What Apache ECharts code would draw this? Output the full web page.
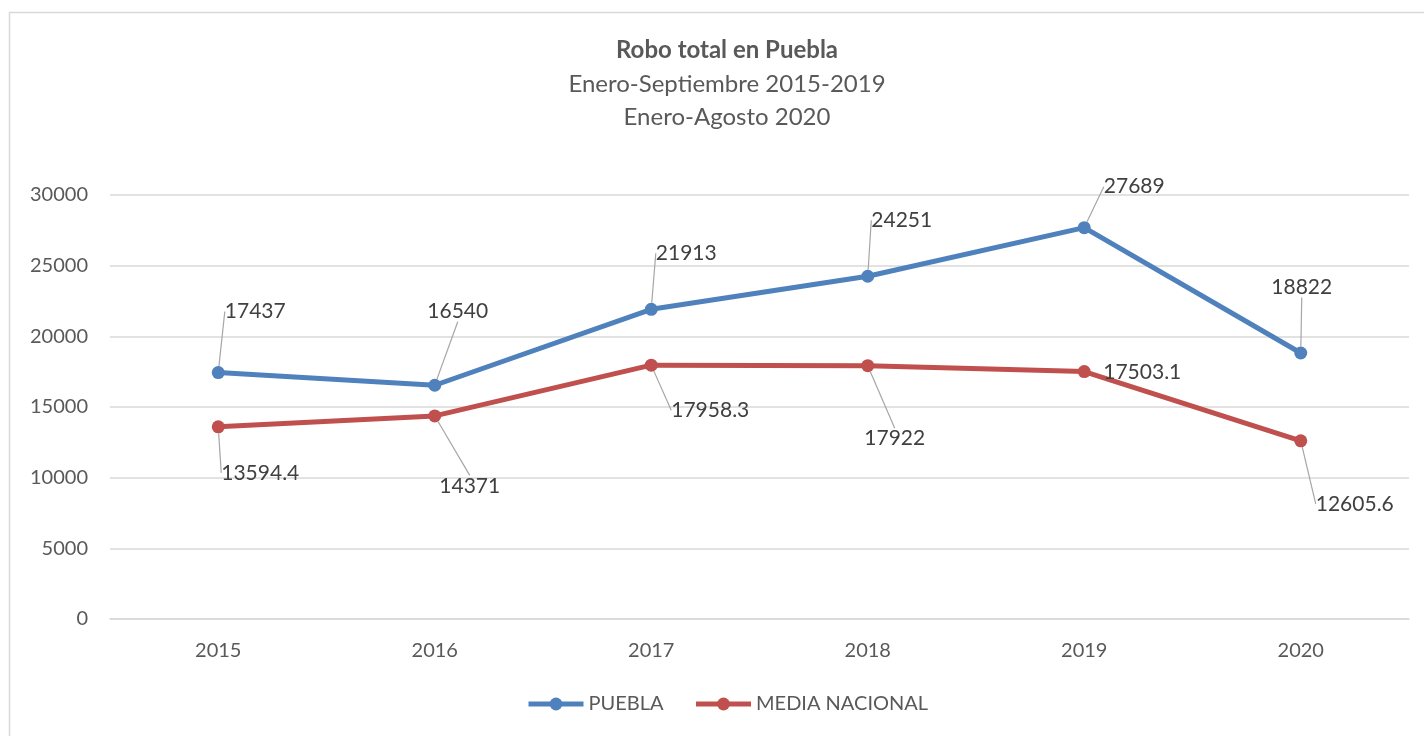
<!DOCTYPE html>
<html>
<head>
<meta charset="utf-8">
<title>Robo total en Puebla</title>
<script src="https://cdn.jsdelivr.net/npm/echarts@6/dist/echarts.min.js"></script>
<style>
  html, body { margin: 0; padding: 0; background: #fff; }
  #chart { width: 1424px; height: 736px; }
</style>
</head>
<body>
<div id="chart"></div>
<script>
// ── data ──
const years = ["2015", "2016", "2017", "2018", "2019", "2020"];
const puebla = [17437, 16540, 21913, 24251, 27689, 18822];
const mediaNacional = [13594.4, 14371, 17958.3, 17922, 17503.1, 12605.6];

// label offsets from the point (px), per series; noLeader = no guide line
const labelShift = [
  [[37, -61], [23, -74], [35, -56], [34, -56], [50, -41], [1, -66]],
  [[42, 46], [35, 70], [59, 45], [27, 73], [58, 1], [54, 63]],
];
const noLeader = [[], [4]];

const FONT = "Lato";
const BLUE = "#4F81BD", RED = "#C0504D";

const chart = echarts.init(document.getElementById("chart"), null, { renderer: "canvas" });

function lineSeries(idx, name, values, color) {
  return {
    name, type: "line",
    data: values.map((v, i) => noLeader[idx].includes(i)
      ? { value: v, labelLine: { show: false } } : v),
    symbol: "circle", symbolSize: 13,
    lineStyle: { color, width: 5 },
    itemStyle: { color },
    label: {
      show: true, position: "inside",
      color: "#404040", fontFamily: FONT, fontSize: 21,
    },
    labelLine: { show: true, lineStyle: { color: "#a6a6a6", width: 1.2 } },
    labelLayout: (p) => {
      const s = labelShift[p.seriesIndex][p.dataIndex];
      return { dx: s[0], dy: s[1] };
    },
    emphasis: { disabled: true },
  };
}

chart.setOption({
  animation: false,
  backgroundColor: "#fff",
  textStyle: { fontFamily: FONT },
  graphic: [{
    type: "rect", silent: true,
    shape: { x: 9.5, y: 12.5, width: 1440, height: 760 },
    style: { fill: "none", stroke: "#d9d9d9", lineWidth: 1.5 },
  }],
  title: {
    text: "Robo total en Puebla",
    subtext: "Enero-Septiembre 2015-2019\nEnero-Agosto 2020",
    left: 722, top: 33, textAlign: "center", itemGap: 6,
    textStyle: { fontFamily: FONT, fontSize: 24, fontWeight: "bold", color: "#595959" },
    subtextStyle: { fontFamily: FONT, fontSize: 24, color: "#595959", lineHeight: 33 },
  },
  legend: {
    bottom: 17, left: 521,
    itemWidth: 55, itemHeight: 16, itemGap: 30,
    lineStyle: { width: 5 },
    textStyle: { fontFamily: FONT, fontSize: 20, color: "#595959" },
    data: ["PUEBLA", "MEDIA NACIONAL"],
  },
  grid: { left: 110, right: 15, top: 195, bottom: 117, containLabel: false },
  xAxis: {
    type: "category", data: years,
    axisLine: { lineStyle: { color: "#d9d9d9", width: 1.5 } },
    axisTick: { show: false },
    axisLabel: { color: "#595959", fontFamily: FONT, fontSize: 20, margin: 22 },
  },
  yAxis: {
    type: "value", min: 0, max: 30000, interval: 5000,
    axisLine: { show: false }, axisTick: { show: false },
    axisLabel: { color: "#595959", fontFamily: FONT, fontSize: 20, margin: 22,
      formatter: (v) => String(v) },
    splitLine: { lineStyle: { color: "#d9d9d9", width: 1.5 } },
  },
  series: [
    lineSeries(0, "PUEBLA", puebla, BLUE),
    lineSeries(1, "MEDIA NACIONAL", mediaNacional, RED),
  ],
});
</script>
</body>
</html>
